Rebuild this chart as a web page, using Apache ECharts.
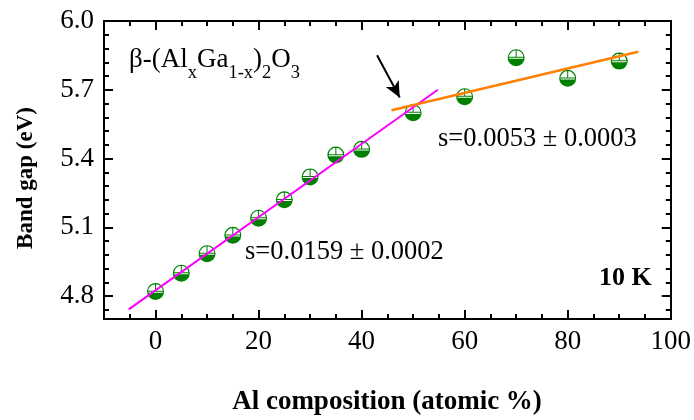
<!DOCTYPE html>
<html><head><meta charset="utf-8">
<script src="https://cdn.jsdelivr.net/npm/echarts@6/dist/echarts.min.js"></script>
<style>html,body{margin:0;padding:0;background:#fff}#c{width:694px;height:420px}</style>
</head><body><div id="c"></div>
<script>
// ---- data ----
const alComposition = [0, 5, 10, 15, 20, 25, 30, 35, 40, 50, 60, 70, 80, 90];
const bandGap = [4.82, 4.90, 4.985, 5.065, 5.14, 5.22, 5.32, 5.415, 5.44, 5.60, 5.67, 5.84, 5.75, 5.825];
const fitLowX = [-5.2, 54.8];
const fitLowY = [4.742, 5.70];
const fitHighX = [45.8, 93.7];
const fitHighY = [5.611, 5.866];
const arrowStart = [43.0, 5.851];
const arrowEnd = [47.4, 5.666];
const xMajorTicks = [0, 20, 40, 60, 80, 100];
const xMinorTicks = [-5, 5, 10, 15, 25, 30, 35, 45, 50, 55, 65, 70, 75, 85, 90, 95];
const yMajorTicks = [4.8, 5.1, 5.4, 5.7, 6.0];
const yMinorTicks = [4.74, 4.86, 4.92, 4.98, 5.04, 5.16, 5.22, 5.28, 5.34, 5.46, 5.52, 5.58, 5.64, 5.76, 5.82, 5.88, 5.94];

const FONT = '"Liberation Serif", "Times New Roman", serif';
const GREEN = '#008000';
const markerPath = 'path://M0 50 A50 50 0 1 1 100 50 A50 50 0 1 1 0 50 Z ' +
  'M7 50 A43 43 0 1 0 93 50 A43 43 0 1 0 7 50 Z ' +
  'M7.4 57 L92.6 57 A43 43 0 0 1 7.4 57 Z ' +
  'M7 45 L93 45 L93 51 L7 51 Z ' +
  'M47 7 L53 7 L53 45 L47 45 Z';

const chart = echarts.init(document.getElementById('c'), null, {renderer: 'canvas'});

function xAx(pos, vals, len, labels) {
  return {
    type: 'value', position: pos, min: -10, max: 100,
    axisLine: {show: true, onZero: false, lineStyle: {color: '#000', width: 2}},
    axisTick: {show: true, inside: true, length: len, customValues: vals, lineStyle: {color: '#000', width: 2}},
    axisLabel: labels ? {show: true, customValues: xMajorTicks, fontFamily: FONT, fontSize: 27, color: '#000', margin: 9} : {show: false},
    splitLine: {show: false}
  };
}
function yAx(pos, vals, len, labels) {
  return {
    type: 'value', position: pos, min: 4.7, max: 6.0,
    axisLine: {show: true, onZero: false, lineStyle: {color: '#000', width: 2}},
    axisTick: {show: true, inside: true, length: len, customValues: vals, lineStyle: {color: '#000', width: 2}},
    axisLabel: labels ? {show: true, customValues: yMajorTicks, fontFamily: FONT, fontSize: 27, color: '#000', margin: 10,
      formatter: v => v.toFixed(1)} : {show: false},
    splitLine: {show: false}
  };
}

chart.setOption({
  animation: false,
  backgroundColor: '#fff',
  grid: {left: 104, right: 23, top: 21, bottom: 101, containLabel: false},
  xAxis: [
    xAx('bottom', xMajorTicks, 9, true),
    xAx('bottom', xMinorTicks, 5, false),
    xAx('top', xMajorTicks, 9, false),
    xAx('top', xMinorTicks, 5, false)
  ],
  yAxis: [
    yAx('left', yMajorTicks, 9, true),
    yAx('left', yMinorTicks, 5, false),
    yAx('right', yMajorTicks, 9, false),
    yAx('right', yMinorTicks, 5, false)
  ],
  series: [
    {
      type: 'scatter', z: 2,
      data: alComposition.map((x, i) => [x, bandGap[i]]),
      symbol: markerPath, symbolSize: 17,
      itemStyle: {color: GREEN, opacity: 1}
    },
    {
      type: 'line', z: 3, symbol: 'none',
      data: fitLowX.map((x, i) => [x, fitLowY[i]]),
      lineStyle: {color: '#ff00ff', width: 2}
    },
    {
      type: 'line', z: 3, symbol: 'none',
      data: fitHighX.map((x, i) => [x, fitHighY[i]]),
      lineStyle: {color: '#ff8000', width: 2.5},
      markLine: {
        silent: true, symbol: ['none', 'arrow'], symbolSize: [11, 16],
        lineStyle: {color: '#000', width: 2, type: 'solid'},
        label: {show: false},
        data: [[{coord: arrowStart}, {coord: arrowEnd}]]
      }
    }
  ],
  graphic: [
    {type: 'text', left: 129, top: 46, style: {
      text: '{n|β-(Al}{s|x}{n|Ga}{s|1-x}{n|)}{s|2}{n|O}{s|3}',
      rich: {
        n: {fontFamily: FONT, fontSize: 27, lineHeight: 27, verticalAlign: 'top', fill: '#000'},
        s: {fontFamily: FONT, fontSize: 18.5, lineHeight: 55, fill: '#000'}
      }
    }},
    {type: 'text', left: 438, top: 126, style: {text: 's=0.0053 ± 0.0003', font: '26.5px ' + FONT, fill: '#000'}},
    {type: 'text', left: 245, top: 239, style: {text: 's=0.0159 ± 0.0002', font: '26.5px ' + FONT, fill: '#000'}},
    {type: 'text', left: 599, top: 265, style: {text: '10 K', font: 'bold 26px ' + FONT, fill: '#000'}},
    {type: 'text', x: 26, y: 178, rotation: Math.PI / 2, style: {text: 'Band gap (eV)', font: 'bold 23px ' + FONT, fill: '#000', align: 'center', verticalAlign: 'middle'}},
    {type: 'text', x: 387, y: 402, style: {text: 'Al composition (atomic %)', font: 'bold 27px ' + FONT, fill: '#000', align: 'center', verticalAlign: 'middle'}}
  ]
});
</script></body></html>
